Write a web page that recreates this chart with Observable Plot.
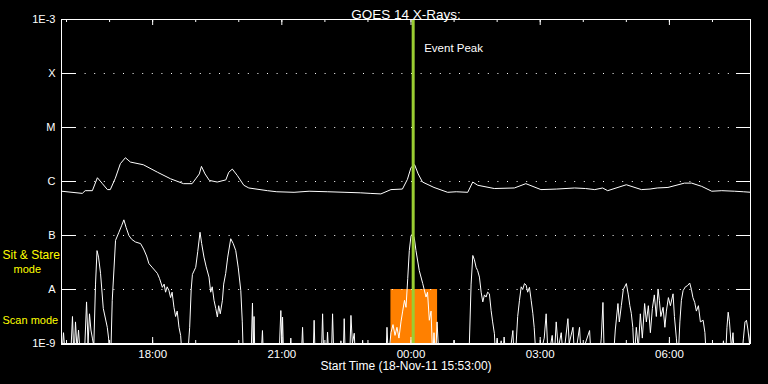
<!DOCTYPE html>
<html><head><meta charset="utf-8">
<script src="https://cdn.jsdelivr.net/npm/d3@7"></script>
<script src="https://cdn.jsdelivr.net/npm/@observablehq/plot@0.6"></script>
<style>html,body{margin:0;padding:0;background:#000;} svg{display:block;}</style>
</head><body><div id="chart"></div>
<script>
// ---- data ----
const titleText = "GOES 14 X-Rays:";
const xLabelText = "Start Time (18-Nov-11 15:53:00)";
const startTime = "2011-11-18T15:53:00Z";
const spanMinutes = 960;
const levelValues = [1e-9, 1e-8, 1e-7, 1e-6, 1e-5, 1e-4, 1e-3];
const levelLabels = ["1E-9", "A", "B", "C", "M", "X", "1E-3"];
const gridLevels = [1e-8, 1e-7, 1e-6, 1e-5, 1e-4];
const eventPeakMinute = 490;          // ~00:03
const eventLabel = "Event Peak";
const scanWindowMinutes = [459, 524]; // 23:32 - 00:37
const scanWindowLevels = [1e-9, 1e-8];
const modeLabels = ["Sit & Stare", "mode", "Scan mode"];

// long channel (1-8 A): [minutes since start, log10 flux]
const longChannel = [
 [0,-6.18],[29,-6.22],[33,-6.17],[43,-6.17],[50,-5.93],[57,-6.04],[64,-6.15],[68,-6.15],
 [75,-5.94],[82,-5.67],[89,-5.56],[96,-5.64],[114,-5.69],[134,-5.83],[152,-5.95],[170,-6.04],
 [182,-6.04],[187,-5.95],[192,-5.86],[195,-5.72],[200,-5.86],[206,-5.98],[217,-6.01],[229,-5.97],
 [233,-5.83],[238,-5.77],[245,-5.89],[254,-6.07],[261,-6.12],[287,-6.17],[300,-6.19],[324,-6.20],
 [345,-6.18],[371,-6.19],[395,-6.20],[417,-6.21],[430,-6.22],[445,-6.23],[459,-6.15],[475,-6.14],
 [482,-5.96],[487,-5.74],[492,-5.69],[497,-5.86],[503,-6.01],[519,-6.11],[538,-6.20],[550,-6.19],
 [566,-6.20],[573,-6.01],[580,-6.07],[603,-6.13],[631,-6.12],[647,-6.04],[668,-6.15],[690,-6.14],
 [715,-6.12],[730,-6.13],[743,-6.15],[754,-6.12],[761,-6.17],[787,-6.06],[808,-6.15],[820,-6.14],
 [830,-6.12],[845,-6.11],[868,-6.03],[878,-6.03],[892,-6.09],[906,-6.18],[920,-6.17],[938,-6.18],
 [950,-6.19],[961,-6.20]
];

// short channel (0.5-4 A): [minutes since start, log10 flux]
const shortChannel = [
 [0,-9.3],[2.8,-8.8],[5.6,-9.3],[12.6,-9.3],[15.3,-8.5],[17.4,-9.3],[19.5,-8.6],[21.6,-9.1],
 [23.7,-8.75],[26.5,-9.3],[32,-9.2],[34.9,-8.23],[37,-9.0],[39,-8.45],[41,-8.75],[43,-8.9],
 [45,-9.05],[47.4,-7.9],[49.5,-7.28],[51.6,-7.40],[54.4,-7.70],[58.2,-8.35],[63.8,-8.70],[65.6,-8.9],
 [67.4,-9.3],[69,-9.05],[70.7,-8.2],[72.6,-7.75],[75.3,-7.09],[80,-6.94],[83.7,-6.82],[86.9,-6.71],
 [90,-6.85],[93.9,-7.0],[97.7,-7.07],[103,-7.12],[110.2,-7.15],[114.4,-7.25],[118.6,-7.38],[121.8,-7.52],
 [127,-7.60],[133.5,-7.70],[136.7,-7.80],[140.5,-7.96],[143,-7.90],[145,-8.05],[147.2,-7.95],[149.7,-8.02],
 [152,-8.15],[154.1,-8.05],[156.7,-8.33],[159,-8.5],[161.2,-8.4],[163.7,-8.7],[166,-8.85],[168.4,-9.3],
 [171,-9.0],[173,-9.3],[176.5,-9.1],[178.6,-8.7],[180.7,-8.0],[182.4,-7.72],[187,-7.59],[189.8,-7.3],
 [193,-6.94],[195.3,-7.15],[198.5,-7.4],[201.6,-7.58],[205.5,-7.77],[207.9,-8.05],[210,-7.95],[212.5,-8.2],
 [214.9,-8.35],[217.2,-8.51],[219,-8.3],[221.2,-8.45],[224.2,-8.2],[226,-7.9],[228.8,-7.7],[231.6,-7.4],
 [235.8,-7.06],[239.3,-7.15],[242.8,-7.28],[246.3,-7.6],[249.8,-8.02],[251.9,-8.6],[253.5,-9.3],[255.3,-9.0],
 [256.7,-9.3],[264,-9.3],[266.1,-8.25],[267.2,-9.1],[268.3,-8.5],[269.5,-9.3],[278,-9.3],[280,-8.76],
 [281.5,-9.3],[290,-9.3],[291.6,-9.0],[293,-9.3],[303,-9.3],[305.6,-8.39],[307,-9.0],[308,-8.51],[309.5,-9.3],
 [318,-9.3],[319.5,-8.9],[321,-9.3],[334,-9.3],[335.9,-8.7],[337.5,-9.3],[346,-9.3],[347.4,-9.0],
 [349,-9.3],[350.5,-9.3],[352,-8.57],[353.5,-9.3],[362,-9.3],[363.8,-8.45],[365.5,-9.3],[369,-9.3],
 [370.7,-8.79],[372.5,-9.3],[376,-9.3],[377.7,-8.45],[379.5,-9.3],[388,-9.3],[389.3,-8.95],[391,-9.3],
 [392.5,-9.3],[393.9,-8.54],[395.5,-9.3],[401.5,-9.3],[403.3,-8.48],[405.3,-9.0],[407.9,-8.81],[409.5,-9.3],
 [418,-9.3],[419.6,-8.94],[421,-9.3],[452,-9.3],[453.5,-8.7],[455.5,-9.3],
 [459,-8.8],[461.9,-8.65],[464.7,-8.85],[467.4,-8.7],[470.2,-8.9],[473,-8.6],[475.4,-8.4],[477.9,-8.2],
 [480,-8.33],[482.4,-7.8],[484.6,-7.28],[487,-7.0],[489.3,-6.97],[491.6,-7.05],[493.9,-7.28],[498.5,-7.65],
 [503.3,-7.89],[507.9,-8.14],[510,-8.05],[512.5,-8.57],[514.9,-8.4],[517.2,-9.3],[519,-8.8],[521.2,-9.3],
 [523.3,-8.6],[526,-9.3],[545.6,-9.3],[547,-8.94],[548.4,-9.3],[566,-9.3],[568.3,-9.0],[570.7,-7.9],
 [573.1,-7.37],[575.3,-7.45],[577.7,-7.59],[579.8,-7.65],[582.3,-7.77],[584.7,-8.05],[587,-8.23],[589.3,-8.10],
 [591.6,-8.14],[593.7,-8.05],[596.2,-8.08],[598.6,-8.39],[600.7,-8.6],[603.2,-8.82],[604.9,-9.3],[607,-8.9],
 [609,-9.3],[612.6,-8.95],[614.6,-9.3],[616.7,-8.88],[619.5,-9.3],[623.7,-9.3],[628.9,-8.76],[630.7,-9.3],
 [633.5,-9.0],[635.6,-8.5],[638.1,-8.2],[640.5,-7.95],[642.6,-8.0],[645.1,-7.89],[647.4,-7.92],[649.5,-8.05],
 [652,-7.96],[654.4,-8.2],[656.7,-8.44],[658.6,-8.7],[661.4,-9.3],[665.6,-9.3],[672.6,-8.9],[675.3,-8.45],
 [678.1,-9.3],[683.7,-8.85],[686.5,-9.3],[689.3,-8.6],[692.1,-9.1],[696.3,-8.8],[699.1,-9.3],[705.6,-8.54],
 [707.4,-9.0],[712.6,-8.7],[715.1,-9.3],[721.8,-8.7],[724.2,-9.3],[729.8,-9.0],[735.8,-8.76],[738.1,-9.3],
 [749.3,-9.3],[752.1,-8.9],[754.4,-8.24],[756.3,-9.3],[768.8,-9.3],[771.6,-8.75],[775.3,-8.26],[777.2,-8.6],
 [780,-8.3],[782.8,-8.0],[787,-7.89],[789.8,-8.1],[791.9,-8.3],[793.9,-8.44],[796,-8.7],[798.1,-9.3],
 [800.9,-8.7],[803.7,-9.1],[806.5,-8.45],[809.3,-8.9],[812.5,-8.26],[814.9,-8.6],[817.7,-8.3],[820.5,-8.8],
 [823.3,-8.35],[826,-8.1],[828.8,-8.5],[831.2,-7.99],[833,-8.2],[835.1,-8.5],[838.2,-8.33],[840.7,-8.7],
 [842.8,-8.4],[845.6,-8.15],[848.4,-8.3],[852.1,-8.08],[854,-8.5],[856.7,-8.9],[859.1,-9.3],[861.6,-8.6],
 [863.7,-8.2],[866.1,-8.02],[869.3,-7.95],[872.1,-7.93],[875.3,-7.88],[877.7,-8.0],[879.8,-8.15],[882.3,-8.24],
 [884.6,-8.4],[887.4,-8.3],[890.2,-8.6],[894,-8.57],[896.5,-8.8],[898.6,-9.3],[905.6,-9.3],[908.4,-9.0],
 [911.2,-9.3],[919.5,-9.3],[922.3,-8.95],[925.1,-9.3],[927.2,-8.7],[928.9,-8.42],[930.7,-8.6],[933.5,-9.1],
 [935.6,-8.8],[937.7,-9.3],[947.4,-9.3],[950.2,-8.9],[952.3,-8.6],[954.4,-8.57],[956.5,-8.75],[958.6,-9.0],
 [960,-8.8],[961.4,-8.9]
];

// ---- build ----
const t0 = new Date(startTime).getTime();
const toDate = m => new Date(t0 + m * 60000);
const t1 = toDate(spanMinutes);
const start = toDate(0);
const toRows = arr => arr.map(([m, l]) => ({t: toDate(m), v: Math.pow(10, l)}));
const longRows = toRows(longChannel);
const shortRows = toRows(shortChannel);
const labelMap = new Map(levelValues.map((v, i) => [v, levelLabels[i]]));
const majorTicks = d3.utcHour.every(3).range(start, t1);
const minorTicks = d3.utcHour.range(start, t1);
const eventPeak = toDate(eventPeakMinute);
const scanRect = [{x1: toDate(scanWindowMinutes[0]), x2: toDate(scanWindowMinutes[1]), y1: scanWindowLevels[0], y2: scanWindowLevels[1]}];

const W = 768, H = 384, mL = 61, mR = 18, mT = 19, mB = 41;
const fw = W - mL - mR, fh = H - mT - mB;
const fg = "white";

const chart = Plot.plot({
  width: W, height: H,
  marginLeft: mL, marginRight: mR, marginTop: mT, marginBottom: mB,
  style: {background: "black", color: fg, fontFamily: "Liberation Sans", fontSize: "11px"},
  x: {type: "utc", domain: [start, t1]},
  y: {type: "log", domain: [levelValues[0], levelValues[levelValues.length - 1]]},
  marks: [
    Plot.rect(scanRect, {x1: "x1", x2: "x2", y1: "y1", y2: "y2", fill: "#ff8000"}),
    Plot.tickY(gridLevels, {y: d => d, stroke: fg, strokeDasharray: "1,8.6", insetLeft: 14, insetRight: 14}),
    Plot.tickY(levelValues, {y: d => d, stroke: fg, insetRight: fw - 14}),
    Plot.tickY(levelValues, {y: d => d, stroke: fg, insetLeft: fw - 14}),
    Plot.tickX(minorTicks, {x: d => d, stroke: fg, insetTop: fh - 3}),
    Plot.tickX(majorTicks, {x: d => d, stroke: fg, insetTop: fh - 6}),
    Plot.tickX(minorTicks, {x: d => d, stroke: fg, insetBottom: fh - 3}),
    Plot.tickX(majorTicks, {x: d => d, stroke: fg, insetBottom: fh - 6}),
    Plot.line(longRows, {x: "t", y: "v", stroke: fg, strokeWidth: 1, clip: true}),
    Plot.line(shortRows, {x: "t", y: "v", stroke: fg, strokeWidth: 1, clip: true}),
    Plot.ruleX([eventPeak], {x: d => d, stroke: "#9acd32", strokeWidth: 3, insetTop: 1}),
    Plot.text([eventLabel], {x: () => eventPeak, text: d => d, frameAnchor: "top", dy: 24, dx: 11, textAnchor: "start", fill: fg, fontSize: 11.5}),
    Plot.frame({stroke: fg}),
    Plot.ruleY([levelValues[0]], {y: d => d, stroke: fg, strokeWidth: 2, dy: 0.5}),
    Plot.axisY({ticks: levelValues, tickFormat: d => labelMap.get(d), tickSize: 0, tickPadding: 6, label: null}),
    Plot.axisX({ticks: majorTicks, tickFormat: d3.utcFormat("%H:%M"), tickSize: 0, tickPadding: 6, label: null, fontSize: 11.5}),
    Plot.text([titleText], {text: d => d, frameAnchor: "top", dy: -10, fill: fg, fontSize: 13.5}),
    Plot.text([xLabelText], {text: d => d, frameAnchor: "bottom", dy: 26, fill: fg, fontSize: 12}),
    Plot.text([modeLabels[0]], {text: d => d, frameAnchor: "bottom-left", dx: -59, dy: -85, textAnchor: "start", fill: "yellow", fontSize: 12}),
    Plot.text([modeLabels[1]], {text: d => d, frameAnchor: "bottom-left", dx: -48, dy: -71, textAnchor: "start", fill: "yellow", fontSize: 11}),
    Plot.text([modeLabels[2]], {text: d => d, frameAnchor: "bottom-left", dx: -59, dy: -20, textAnchor: "start", fill: "yellow", fontSize: 11})
  ]
});
document.getElementById("chart").appendChild(chart);
</script>
</body></html>
